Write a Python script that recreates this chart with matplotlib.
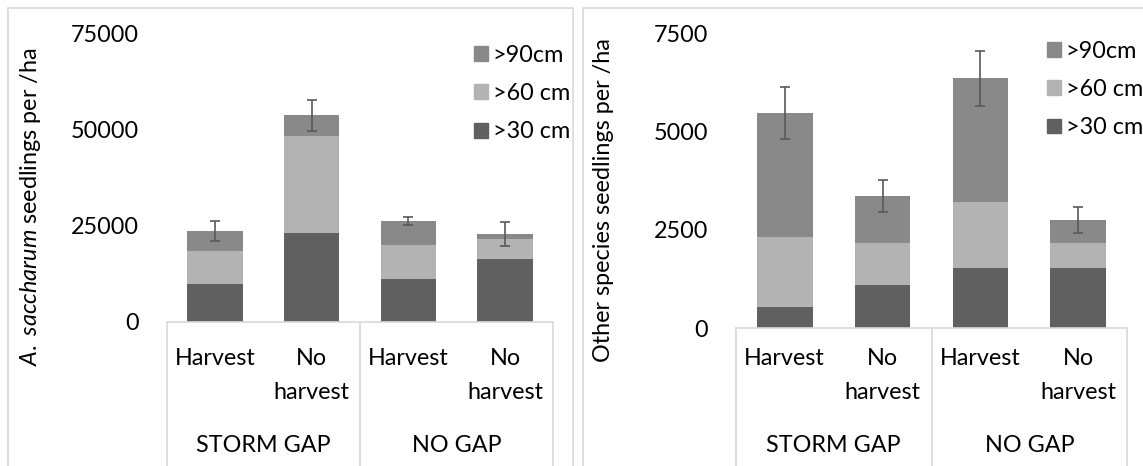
import matplotlib
matplotlib.use("Agg")
import matplotlib.pyplot as plt
import matplotlib.transforms as mtransforms
from matplotlib.patches import Rectangle, Patch
from matplotlib.lines import Line2D

# categories
treatments = ["Harvest", "No\nharvest", "Harvest", "No\nharvest"]
groups = ["STORM GAP", "NO GAP"]
size_classes = [">30 cm", ">60 cm", ">90cm"]

# A. saccharum seedlings per ha (stacked segments)
sacc_30 = [9800, 23150, 11200, 16400]
sacc_60 = [8700, 25150, 8750, 5200]
sacc_90 = [5100, 5400, 6300, 1150]
sacc_err = [2600, 4000, 1000, 3100]
sacc_ticks = [0, 25000, 50000, 75000]

# other species seedlings per ha
oth_30 = [550, 1100, 1530, 1530]
oth_60 = [1770, 1060, 1690, 630]
oth_90 = [3150, 1200, 3140, 590]
oth_err = [660, 400, 700, 330]
oth_ticks = [0, 2500, 5000, 7500]

colors = ["#606060", "#b3b3b3", "#898989"]
frame_col = "#d9d9d9"

plt.rcParams['font.family'] = ['Lato', 'DejaVu Sans']
plt.rcParams['mathtext.fontset'] = 'custom'
plt.rcParams['mathtext.it'] = 'Lato:italic'
plt.rcParams['mathtext.rm'] = 'Lato'
FS = 16.8

W, H = 1143, 466
fig = plt.figure(figsize=(W / 100, H / 100), dpi=100)

# panel frames (pixel coords)
fig.patches.append(Rectangle((8 / W, -0.1), 565 / W, 1.1 - 8 / H, transform=fig.transFigure,
                             fill=False, edgecolor=frame_col, lw=1.2))
fig.patches.append(Rectangle((583 / W, -0.1), 0.5, 1.1 - 8 / H, transform=fig.transFigure,
                             fill=False, edgecolor=frame_col, lw=1.2))


def panel(rect, s30, s60, s90, err, ticks, leg_anchor, label, label_xy, lab_off):
    ax = fig.add_axes(rect)
    x = list(range(len(treatments)))
    ax.bar(x, s30, width=0.57, color=colors[0])
    ax.bar(x, s60, width=0.57, bottom=s30, color=colors[1])
    bot3 = [a + b for a, b in zip(s30, s60)]
    ax.bar(x, s90, width=0.57, bottom=bot3, color=colors[2])
    tot = [a + b for a, b in zip(bot3, s90)]
    ax.errorbar(x, tot, yerr=err, fmt='none', ecolor="#595959", elinewidth=1.2,
                capsize=3.3, capthick=1.2)

    ax.set_xlim(-0.5, 3.5)
    ax.set_ylim(ticks[0], ticks[-1])
    ax.set_yticks(ticks)
    ax.set_yticklabels([str(t) for t in ticks], fontsize=FS)
    ax.tick_params(axis='y', length=0, pad=20)
    ax.set_xticks([])
    for s in ['top', 'right', 'left']:
        ax.spines[s].set_visible(False)
    ax.spines['bottom'].set_color(frame_col)
    ax.spines['bottom'].set_linewidth(1.2)

    # multi-level category axis
    tr = mtransforms.blended_transform_factory(ax.transData, fig.transFigure)
    for xv in [-0.5, 1.5, 3.5]:
        ax.add_line(Line2D([xv, xv], [rect[1], -0.05], transform=tr, color=frame_col,
                           lw=1.2, clip_on=False))
    for i, t in enumerate(treatments):
        for j, ln in enumerate(t.split("\n")):
            ax.annotate(ln, xy=(i, 0), xycoords=('data', 'axes fraction'),
                        xytext=(0, -(lab_off + 34 * j) * 0.72), textcoords='offset points',
                        ha='center', va='baseline', fontsize=FS)
    for g, name in enumerate(groups):
        ax.annotate(name, xy=(0.5 + 2 * g, 0), xycoords=('data', 'axes fraction'),
                    xytext=(0, -(lab_off + 87) * 0.72), textcoords='offset points',
                    ha='center', va='baseline', fontsize=FS)

    handles = [Patch(color=colors[2]), Patch(color=colors[1]), Patch(color=colors[0])]
    ax.legend(handles, [size_classes[2], size_classes[1], size_classes[0]],
              loc='upper left', bbox_to_anchor=leg_anchor, frameon=False, fontsize=FS,
              handlelength=0.6, handleheight=0.6, handletextpad=0.2, labelspacing=0.74,
              borderpad=0, borderaxespad=0)

    fig.text(label_xy[0], label_xy[1], label, rotation=90, ha='center', va='center',
             fontsize=FS)
    return ax


panel([166.7 / W, 1 - 321.7 / H, 386.6 / W, 288.4 / H], sacc_30, sacc_60, sacc_90, sacc_err,
      sacc_ticks, (0.795, 0.96), r"$\mathit{A.\ saccharum}$ seedlings per /ha",
      (31 / W, 1 - 207 / H), 43)
panel([735.7 / W, 1 - 328.3 / H, 391.6 / W, 295 / H], oth_30, oth_60, oth_90, oth_err,
      oth_ticks, (0.795, 0.975), "Other species seedlings per /ha",
      (604 / W, 1 - 200 / H), 37)

plt.savefig("out.png", dpi=100)
